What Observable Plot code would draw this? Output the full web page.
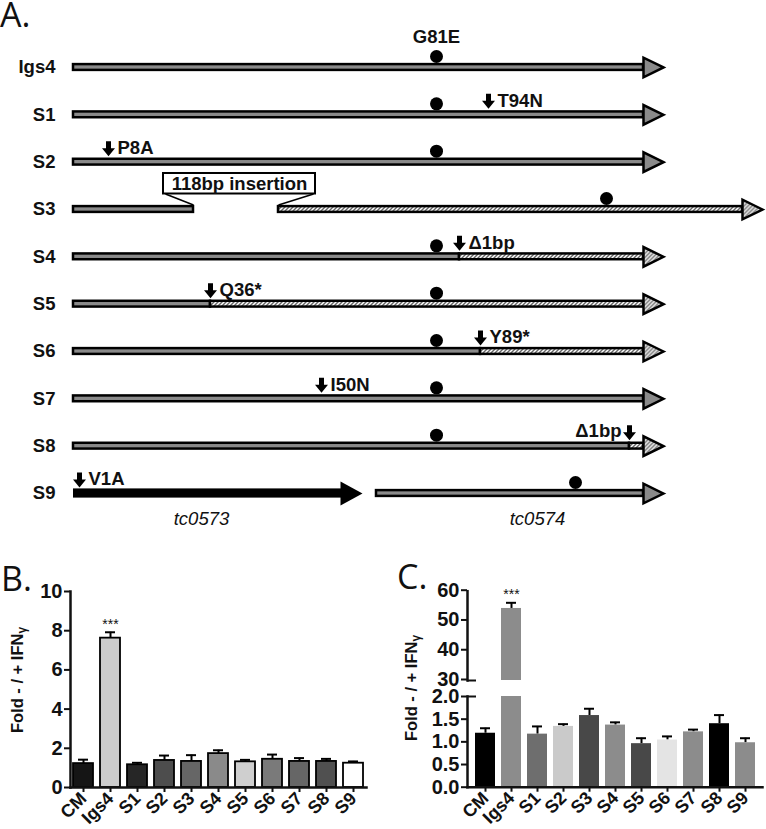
<!DOCTYPE html>
<html>
<head>
<meta charset="utf-8">
<script src="https://cdn.jsdelivr.net/npm/d3@7"></script>
<script src="https://cdn.jsdelivr.net/npm/@observablehq/plot@0.6"></script>
<style>
  body { margin: 0; background: white; }
  #fig { position: relative; width: 766px; height: 829px; background: white; overflow: hidden; }
  .pane { position: absolute; }
  .letter { position: absolute; font-family: "Open Sans", sans-serif; font-size: 34px; line-height: 28px; font-weight: 400; color: #111; }
  .ylab { position: absolute; font-family: "Liberation Sans", Arial, sans-serif; font-weight: bold; font-size: 16.5px; white-space: nowrap; transform: translate(-50%, -50%) rotate(-90deg); color: #111; }
  .ylab span { font-size: 12px; position: relative; top: 3px; }
</style>
</head>
<body>
<svg width="0" height="0" style="position:absolute">
  <defs>
    <pattern id="hatch" patternUnits="userSpaceOnUse" width="4" height="4">
      <rect width="4" height="4" fill="white"></rect>
      <path d="M-1,1 l2,-2 M0,4 l4,-4 M3,5 l2,-2" stroke="#666" stroke-width="1.4"></path>
    </pattern>
  </defs>
</svg>
<div id="fig">
  <div id="pa" class="pane" style="left:0;top:0"></div>
  <div id="pb" class="pane" style="left:0;top:575px"></div>
  <div id="pct" class="pane" style="left:380px;top:580px"></div>
  <div id="pcb" class="pane" style="left:380px;top:690px"></div>
  <div class="letter" style="left:0px;top:0px">A.</div>
  <div class="letter" style="left:1px;top:564px">B.</div>
  <div class="letter" style="left:397px;top:562px">C.</div>
  <div class="ylab" style="left:17px;top:680px">Fold - / + IFN<span>γ</span></div>
  <div class="ylab" style="left:411px;top:688px">Fold - / + IFN<span>γ</span></div>
</div>
<script>
// ---------- Panel A data (positions along the schematic gene, 0 = start codon) ----------
const rows = ["Igs4", "S1", "S2", "S3", "S4", "S5", "S6", "S7", "S8", "S9"];
const segments = [
  {row: "Igs4", start: 0, end: 570, kind: "wt"},
  {row: "S1", start: 0, end: 570, kind: "wt"},
  {row: "S2", start: 0, end: 570, kind: "wt"},
  {row: "S3", start: 0, end: 120, kind: "wt"},
  {row: "S3", start: 205, end: 669, kind: "fs"},
  {row: "S4", start: 0, end: 386, kind: "wt"},
  {row: "S4", start: 386, end: 570, kind: "fs"},
  {row: "S5", start: 0, end: 137, kind: "wt"},
  {row: "S5", start: 137, end: 570, kind: "fs"},
  {row: "S6", start: 0, end: 407, kind: "wt"},
  {row: "S6", start: 407, end: 570, kind: "fs"},
  {row: "S7", start: 0, end: 570, kind: "wt"},
  {row: "S8", start: 0, end: 556, kind: "wt"},
  {row: "S8", start: 556, end: 570, kind: "fs"},
  {row: "S9", start: 0, end: 269, kind: "up"},
  {row: "S9", start: 303, end: 570, kind: "wt"}
];
const heads = [
  {row: "Igs4", tip: 592, kind: "wt"},
  {row: "S1", tip: 592, kind: "wt"},
  {row: "S2", tip: 592, kind: "wt"},
  {row: "S3", tip: 691, kind: "fs"},
  {row: "S4", tip: 592, kind: "fs"},
  {row: "S5", tip: 592, kind: "fs"},
  {row: "S6", tip: 592, kind: "fs"},
  {row: "S7", tip: 592, kind: "wt"},
  {row: "S8", tip: 592, kind: "fs"},
  {row: "S9", tip: 289, kind: "up"},
  {row: "S9", tip: 592, kind: "wt"}
];
const sites = [
  {row: "Igs4", pos: 363}, {row: "S1", pos: 363}, {row: "S2", pos: 363},
  {row: "S3", pos: 533}, {row: "S4", pos: 363}, {row: "S5", pos: 363},
  {row: "S6", pos: 363}, {row: "S7", pos: 363}, {row: "S8", pos: 363},
  {row: "S9", pos: 502}
];
const siteLabel = [{row: "Igs4", pos: 363, label: "G81E"}];
const mutations = [
  {row: "S1", pos: 415, label: "T94N", side: "right"},
  {row: "S2", pos: 35, label: "P8A", side: "right"},
  {row: "S4", pos: 386, label: "Δ1bp", side: "right"},
  {row: "S5", pos: 137, label: "Q36*", side: "right"},
  {row: "S6", pos: 407, label: "Y89*", side: "right"},
  {row: "S7", pos: 248, label: "I50N", side: "right"},
  {row: "S8", pos: 556, label: "Δ1bp", side: "left"},
  {row: "S9", pos: 6, label: "V1A", side: "right"}
];
const geneNames = [{row: "S9", pos: 128, label: "tc0573"}, {row: "S9", pos: 464, label: "tc0574"}];
const insertion = [{row: "S3", x1: 90, x2: 242, gapStart: 120, gapEnd: 205, label: "118bp insertion"}];

// ---------- Panels B and C data ----------
const strains = ["CM", "Igs4", "S1", "S2", "S3", "S4", "S5", "S6", "S7", "S8", "S9"];
const foldB = [1.22, 7.62, 1.16, 1.38, 1.33, 1.73, 1.31, 1.44, 1.33, 1.33, 1.24];
const errB  = [0.20, 0.30, 0.10, 0.25, 0.32, 0.17, 0.10, 0.24, 0.17, 0.13, 0.09];
const colorsB = ["#151515", "#cccccc", "#262626", "#4d4d4d", "#666666", "#8a8a8a", "#cfcfcf", "#7a7a7a", "#666666", "#505050", "#ffffff"];
const ticksB = [0, 2, 4, 6, 8, 10];

const foldC = [1.19, 54.2, 1.17, 1.34, 1.58, 1.37, 0.96, 1.04, 1.22, 1.40, 0.98];
const errC  = [0.11, 1.9, 0.17, 0.05, 0.15, 0.06, 0.12, 0.08, 0.05, 0.19, 0.10];
const colorsC = ["#000000", "#8c8c8c", "#6e6e6e", "#cacaca", "#484848", "#8c8c8c", "#484848", "#e4e4e4", "#8c8c8c", "#000000", "#8c8c8c"];
const ticksCTop = [30, 40, 50, 60];
const ticksCBottom = [0, 0.5, 1, 1.5, 2];
const breakLow = 2, breakHigh = 30;

// ---------- Panel A ----------
const rowStep = 47.33;               // px per row
const yRangeA = [43.33, 516.67];
const px = (p) => p / rowStep;       // px -> row units
const ri = (d) => rows.indexOf(d.row);
const shaftHalf = px(2.9), upHalf = px(4.6);

function headSymbol(L, H) {
  return {draw(ctx) { ctx.moveTo(-2, 0); ctx.lineTo(-2 - L, -H); ctx.lineTo(-2 - L, H); ctx.closePath(); }};
}
const grayHead = headSymbol(20, 9.8);
const bigHead = {draw(ctx) { ctx.moveTo(0, 0); ctx.lineTo(-22, -12); ctx.lineTo(-22, 12); ctx.closePath(); }};
const downArrow = {draw(ctx) {
  ctx.moveTo(-2.5, -15); ctx.lineTo(2.5, -15); ctx.lineTo(2.5, -8); ctx.lineTo(6.5, -8);
  ctx.lineTo(0, 0); ctx.lineTo(-6.5, -8); ctx.lineTo(-2.5, -8); ctx.closePath();
}};

const GRAY = "#8a8a8a";
const segWt = segments.filter(d => d.kind === "wt");
const segFs = segments.filter(d => d.kind === "fs");
const segUp = segments.filter(d => d.kind === "up");

const plotA = Plot.plot({
  width: 766, height: 540,
  marginLeft: 73, marginRight: 0, marginTop: 0, marginBottom: 0,
  x: {domain: [0, 693], range: [73, 766], axis: null},
  y: {domain: [-0.5, rows.length - 0.5], range: yRangeA, axis: null},
  style: {fontFamily: "Liberation Sans, Arial, sans-serif", fontSize: "18.5px", fontWeight: "bold", background: "transparent", overflow: "visible", color: "#111"},
  marks: [
    Plot.rect(segWt, {x1: "start", x2: "end", y1: d => ri(d) - shaftHalf, y2: d => ri(d) + shaftHalf, fill: GRAY, stroke: "black", strokeWidth: 2.5}),
    Plot.rect(segFs, {x1: "start", x2: "end", y1: d => ri(d) - shaftHalf, y2: d => ri(d) + shaftHalf, fill: "url(#hatch)", stroke: "black", strokeWidth: 2.5}),
    Plot.rect(segUp, {x1: "start", x2: "end", y1: d => ri(d) - upHalf, y2: d => ri(d) + upHalf, fill: "black"}),
    Plot.dot(heads.filter(d => d.kind === "wt"), {x: "tip", y: ri, symbol: grayHead, fill: GRAY, stroke: "black", strokeWidth: 2.5, strokeLinejoin: "miter"}),
    Plot.dot(heads.filter(d => d.kind === "fs"), {x: "tip", y: ri, symbol: grayHead, fill: "url(#hatch)", stroke: "black", strokeWidth: 2.5, strokeLinejoin: "miter"}),
    Plot.dot(heads.filter(d => d.kind === "up"), {x: "tip", y: ri, symbol: bigHead, fill: "black", stroke: "none"}),
    Plot.dot(sites, {x: "pos", y: ri, r: 6.5, fill: "black", stroke: "none", dy: -11}),
    Plot.text(siteLabel, {x: "pos", y: ri, text: "label", dy: -30}),
    Plot.dot(mutations, {x: "pos", y: ri, symbol: downArrow, fill: "black", stroke: "none", dy: -6}),
    Plot.text(mutations.filter(d => d.side === "right"), {x: "pos", y: ri, text: "label", textAnchor: "start", dx: 9, dy: -14}),
    Plot.text(mutations.filter(d => d.side === "left"), {x: "pos", y: ri, text: "label", textAnchor: "end", dx: -8, dy: -15}),
    Plot.rect(insertion, {x1: "x1", x2: "x2", y1: d => ri(d) - px(36), y2: d => ri(d) - px(15.5), fill: "white", stroke: "black", strokeWidth: 2}),
    Plot.link(insertion, {x1: d => d.x1 + 2, x2: "gapStart", y1: d => ri(d) - px(15.5), y2: d => ri(d) - px(4.5), stroke: "black", strokeWidth: 1.5}),
    Plot.link(insertion, {x1: d => d.x2 - 2, x2: "gapEnd", y1: d => ri(d) - px(15.5), y2: d => ri(d) - px(4.5), stroke: "black", strokeWidth: 1.5}),
    Plot.text(insertion, {x: d => (d.x1 + d.x2) / 2, y: ri, text: "label", dy: -25.5}),
    Plot.text(geneNames, {x: "pos", y: ri, text: "label", dy: 26, fontStyle: "italic", fontWeight: "normal"}),
    Plot.axisY({ticks: d3.range(rows.length), tickFormat: i => rows[i], tickSize: 0, tickPadding: 18, label: null})
  ]
});
document.getElementById("pa").appendChild(plotA);

// ---------- shared bar-chart styling ----------
const barStyle = {fontFamily: "Liberation Sans, Arial, sans-serif", fontSize: "20px", fontWeight: "bold", background: "transparent", overflow: "visible", color: "#111"};
const yTickSize = 20, xTickSize = 18;

// ---------- Panel B ----------
const dataB = strains.map((s, i) => ({name: s, value: foldB[i], err: errB[i], color: colorsB[i]}));

const plotB = Plot.plot({
  width: 380, height: 254,
  marginLeft: 70, marginRight: 14, marginTop: 16, marginBottom: 42,
  x: {domain: strains, paddingInner: 0.26, paddingOuter: 0.1, axis: null},
  y: {domain: [0, 10], axis: null},
  color: {type: "identity"},
  style: barStyle,
  marks: [
    Plot.ruleX(dataB, {x: "name", y1: "value", y2: d => d.value + d.err, stroke: "black", strokeWidth: 2}),
    Plot.tickY(dataB, {x: "name", y: d => d.value + d.err, stroke: "black", strokeWidth: 2, insetLeft: 5, insetRight: 5}),
    Plot.barY(dataB, {x: "name", y: "value", fill: "color", stroke: "black", strokeWidth: 1.8}),
    Plot.text(dataB.filter(d => d.name === "Igs4"), {x: "name", y: d => d.value + d.err, text: () => "***", dy: -8, fontWeight: "normal", fontSize: 14}),
    Plot.frame({anchor: "left", strokeWidth: 2.5}),
    Plot.frame({anchor: "bottom", strokeWidth: 2.5}),
    Plot.axisY({ticks: ticksB, tickSize: 6, tickPadding: 2, strokeWidth: 2, label: null, fontSize: yTickSize}),
    Plot.axisX({tickSize: 5, tickRotate: -45, tickPadding: 3, strokeWidth: 2, label: null, fontSize: xTickSize})
  ]
});
document.getElementById("pb").appendChild(plotB);

// ---------- Panel C (broken y axis: two stacked plots) ----------
const dataC = strains.map((s, i) => ({name: s, value: foldC[i], err: errC[i], color: colorsC[i]}));
const xC = {domain: strains, paddingInner: 0.24, paddingOuter: 0.1, axis: null};
const marginsC = {marginLeft: 87, marginRight: 4};
const frameWC = 386 - marginsC.marginLeft - marginsC.marginRight;

const plotCTop = Plot.plot({
  width: 386, height: 105, ...marginsC, marginTop: 10.7, marginBottom: 5,
  x: xC,
  y: {domain: [breakHigh, 60], axis: null},
  color: {type: "identity"},
  style: barStyle,
  marks: [
    Plot.ruleX(dataC.filter(d => d.value > breakHigh), {x: "name", y1: "value", y2: d => d.value + d.err, stroke: "black", strokeWidth: 2}),
    Plot.tickY(dataC.filter(d => d.value > breakHigh), {x: "name", y: d => d.value + d.err, stroke: "black", strokeWidth: 2, insetLeft: 5, insetRight: 5}),
    Plot.barY(dataC.filter(d => d.value > breakHigh), {x: "name", y1: () => breakHigh, y2: "value", fill: "color"}),
    Plot.text(dataC.filter(d => d.value > breakHigh), {x: "name", y: d => d.value + d.err, text: () => "***", dy: -8, fontWeight: "normal", fontSize: 14}),
    Plot.frame({anchor: "left", strokeWidth: 2.5}),
    Plot.ruleY([breakHigh], {strokeWidth: 2, insetRight: frameWC - 9}),
    Plot.axisY({ticks: ticksCTop, tickSize: 6, tickPadding: 2, strokeWidth: 2, label: null, fontSize: yTickSize, dy: -1})
  ]
});
document.getElementById("pct").appendChild(plotCTop);

const plotCBottom = Plot.plot({
  width: 386, height: 139, ...marginsC, marginTop: 6, marginBottom: 42.3,
  x: xC,
  y: {domain: [0, breakLow], axis: null},
  color: {type: "identity"},
  style: barStyle,
  marks: [
    Plot.ruleX(dataC.filter(d => d.value <= breakLow), {x: "name", y1: "value", y2: d => d.value + d.err, stroke: "black", strokeWidth: 2}),
    Plot.tickY(dataC.filter(d => d.value <= breakLow), {x: "name", y: d => d.value + d.err, stroke: "black", strokeWidth: 2, insetLeft: 5, insetRight: 5}),
    Plot.barY(dataC, {x: "name", y: d => Math.min(d.value, breakLow), fill: "color"}),
    Plot.frame({anchor: "left", strokeWidth: 2.5}),
    Plot.frame({anchor: "bottom", strokeWidth: 2.5}),
    Plot.ruleY([breakLow], {strokeWidth: 2, insetRight: frameWC - 9}),
    Plot.axisY({ticks: ticksCBottom, tickFormat: d3.format(".1f"), tickSize: 6, tickPadding: 2, strokeWidth: 2, label: null, fontSize: yTickSize}),
    Plot.axisX({tickSize: 5, tickRotate: -45, tickPadding: 3, strokeWidth: 2, label: null, fontSize: xTickSize})
  ]
});
document.getElementById("pcb").appendChild(plotCBottom);
</script>
</body>
</html>
